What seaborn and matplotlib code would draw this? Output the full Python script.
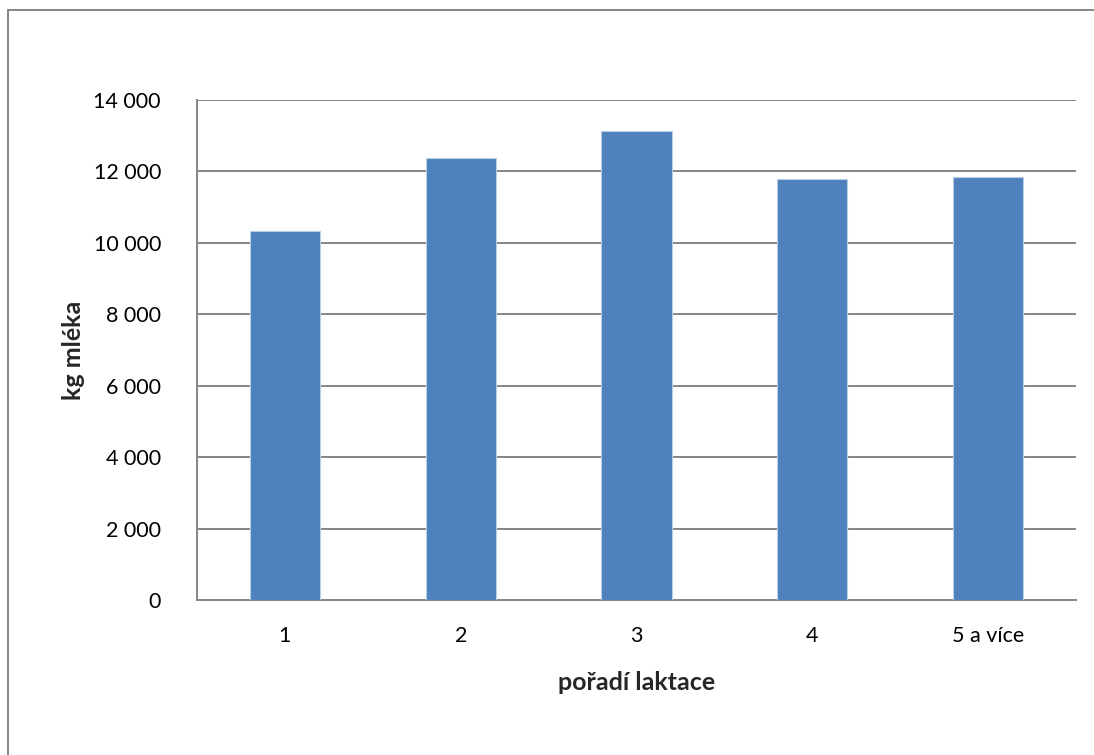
import matplotlib
matplotlib.use("Agg")
import matplotlib.pyplot as plt
from matplotlib.lines import Line2D
import seaborn as sns
import pandas as pd

categories = ["1", "2", "3", "4", "5 a více"]
milk_kg = [10330, 12380, 13130, 11790, 11850]
y_ticks = [0, 2000, 4000, 6000, 8000, 10000, 12000, 14000]
y_tick_labels = ["0", "2 000", "4 000", "6 000", "8 000", "10 000", "12 000", "14 000"]

sns.set_theme(style="white")
plt.rcParams["font.family"] = ["Lato", "DejaVu Sans"]

df = pd.DataFrame({"laktace": categories, "mleko": milk_kg})

fig = plt.figure(figsize=(10.94, 7.55), dpi=100)
ax = fig.add_axes([197 / 1094, 1 - 600 / 755, (1076 - 197) / 1094, 500 / 755])

sns.barplot(data=df, x="laktace", y="mleko", color="#4F81BD", saturation=1,
            width=0.40, edgecolor="#B9CDE5", linewidth=0.8, ax=ax, zorder=3)

grid_col = "#868686"
ax.set_ylim(0, 14000)
ax.set_yticks(y_ticks)
ax.set_yticklabels(y_tick_labels)
ax.yaxis.grid(True, color=grid_col, linewidth=1.4, zorder=0)
ax.set_axisbelow(True)
for side in ["top", "right"]:
    ax.spines[side].set_visible(False)
for side in ["left", "bottom"]:
    ax.spines[side].set_color(grid_col)
    ax.spines[side].set_linewidth(1.4)
ax.tick_params(axis="both", length=0, labelsize=15.5, colors="black")
ax.tick_params(axis="y", pad=26)
ax.tick_params(axis="x", pad=19)

ax.set_xlabel("pořadí laktace", fontsize=18, fontweight="bold", labelpad=18)
ax.set_ylabel("kg mléka", fontsize=18, fontweight="bold", labelpad=6)

# chart frame
fig.add_artist(Line2D([8 / 1094, 1.0], [1 - 10 / 755, 1 - 10 / 755],
                      color=grid_col, linewidth=1.4, transform=fig.transFigure))
fig.add_artist(Line2D([8 / 1094, 8 / 1094], [0.0, 1 - 10 / 755],
                      color=grid_col, linewidth=1.4, transform=fig.transFigure))

fig.savefig("out.png", dpi=100, facecolor="white")
